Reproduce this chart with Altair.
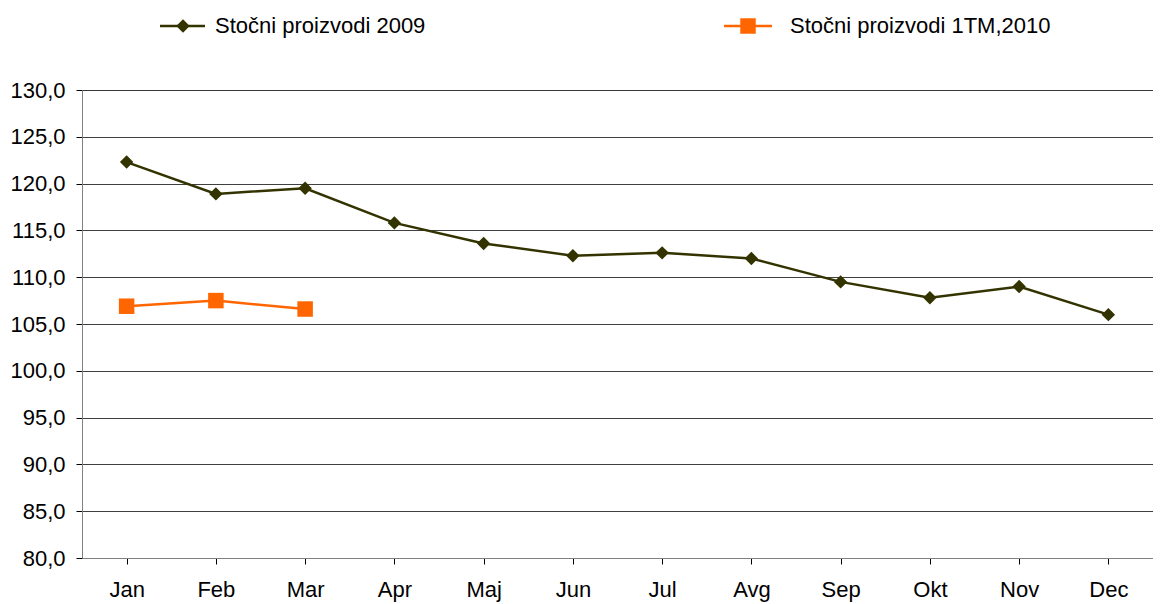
import altair as alt
import pandas as pd

months = ["Jan", "Feb", "Mar", "Apr", "Maj", "Jun", "Jul", "Avg", "Sep", "Okt", "Nov", "Dec"]
s2009 = [122.3, 118.9, 119.5, 115.8, 113.6, 112.3, 112.6, 112.0, 109.5, 107.8, 109.0, 106.0]
s2010 = [106.9, 107.5, 106.6]
series_names = ["Stočni proizvodi 2009", "Stočni proizvodi 1TM,2010"]
colors = ["#333300", "#FF6600"]
shapes = ["diamond", "square"]
marker_sizes = [180, 240]

rows = []
for m, v in zip(months, s2009):
    rows.append({"month": m, "value": v, "series": series_names[0]})
for m, v in zip(months, s2010):
    rows.append({"month": m, "value": v, "series": series_names[1]})
df = pd.DataFrame(rows)

FONT = "Liberation Sans"
FS = 22
W, H = 1071, 468

x = alt.X("month:N", sort=months, scale=alt.Scale(domain=months, paddingInner=0, paddingOuter=0),
          axis=alt.Axis(title=None, labelAngle=0, labelFontSize=FS, labelColor="#000", labelFont=FONT,
                        domainColor="#808080", tickColor="#000", tickSize=6, bandPosition=0,
                        labelPadding=15, grid=False))
y = alt.Y("value:Q", scale=alt.Scale(domain=[80, 130], nice=False, zero=False),
          axis=alt.Axis(title=None, values=list(range(80, 131, 5)),
                        labelExpr="replace(format(datum.value, '.1f'), '.', ',')",
                        labelFontSize=FS, labelColor="#000", labelFont=FONT,
                        domainColor="#808080", tickColor="#000", tickSize=6, labelPadding=11,
                        grid=True, gridColor="#000", gridOpacity=0.75))

color = alt.Color("series:N", scale=alt.Scale(domain=series_names, range=colors), legend=None)

base = alt.Chart(df)
layers = [base.mark_line(strokeWidth=2.5).encode(x=x, y=y, color=color, detail="series:N")]
for name, shp, sz in zip(series_names, shapes, marker_sizes):
    layers.append(base.transform_filter(alt.datum.series == name).mark_point(
        filled=True, opacity=1, size=sz, shape=shp).encode(x=x, y=y, color=color))

# manual legend (pixel layout relative to plot area)
LEG_Y = -64
leg_layout = [(78, 123, 101, 133), (642, 690, 666, 708)]
one = pd.DataFrame({"k": [0]})
for name, col, shp, sz, (x1, x2, xm, xt) in zip(series_names, colors, shapes, marker_sizes, leg_layout):
    c = alt.Chart(one)
    layers.append(c.mark_rule(strokeWidth=2.5, color=col).encode(
        x=alt.value(x1), x2=alt.value(x2), y=alt.value(LEG_Y)))
    layers.append(c.mark_point(filled=True, opacity=1, size=sz, shape=shp, color=col).encode(
        x=alt.value(xm), y=alt.value(LEG_Y)))
    layers.append(c.mark_text(align="left", baseline="middle", fontSize=FS, font=FONT, color="#000").encode(
        x=alt.value(xt), y=alt.value(LEG_Y), text=alt.value(name)))

chart = alt.layer(*layers).properties(
    width=W, height=H,
    autosize=alt.AutoSizeParams(type="none"),
    padding={"left": 74, "top": 82, "right": 0, "bottom": 48},
).configure_view(stroke=None).configure(background="white")

chart.save("out.html", embed_options={"renderer": "svg", "actions": False})
